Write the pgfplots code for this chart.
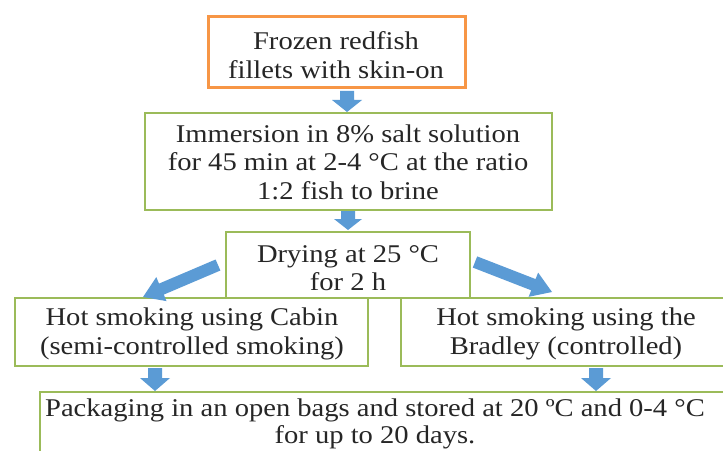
\documentclass[border=0pt]{standalone}
\usepackage{pgfplots}
\pgfplotsset{compat=1.18}
\usepackage{fontspec}
\setmainfont{Liberation Serif}[FakeStretch=1.12]
\definecolor{boxorange}{HTML}{F79646}
\definecolor{boxgreen}{HTML}{9BBB59}
\definecolor{arrowblue}{HTML}{5B9BD5}
\begin{document}
\begin{tikzpicture}
\begin{axis}[
  width=723bp, height=451bp, scale only axis,
  xmin=0, xmax=723, ymin=0, ymax=451, y dir=reverse,
  hide axis, clip=true,
]
% background
\addplot[fill=white, draw=none] coordinates {(0,0) (723,0) (723,451) (0,451) (0,0)} -- cycle;
% boxes
\addplot[draw=boxorange, line width=3bp] coordinates {(208,17) (465,17) (465,88) (208,88) (208,17)} -- cycle;
\addplot[draw=boxgreen, line width=1.8bp] coordinates {(145,113) (552,113) (552,210) (145,210) (145,113)} -- cycle;
\addplot[draw=boxgreen, line width=1.8bp] coordinates {(226,232) (470,232) (470,298) (226,298) (226,232)} -- cycle;
\addplot[draw=boxgreen, line width=1.8bp] coordinates {(15,298) (368,298) (368,366) (15,366) (15,298)} -- cycle;
\addplot[draw=boxgreen, line width=1.8bp] coordinates {(401,298) (740,298) (740,366) (401,366) (401,298)} -- cycle;
\addplot[draw=boxgreen, line width=1.8bp] coordinates {(40,392) (740,392) (740,470) (40,470) (40,392)} -- cycle;
% block arrows
\addplot[fill=arrowblue, draw=none] coordinates {(340,91) (354,91) (354,100) (362,100) (347,112) (332,100) (340,100)} -- cycle;
\addplot[fill=arrowblue, draw=none] coordinates {(341,211) (355,211) (355,219) (362,219) (348,230) (334,219) (341,219)} -- cycle;
\addplot[fill=arrowblue, draw=none] coordinates {(148,368) (162,368) (162,378) (170,378) (155,391) (140,378) (148,378)} -- cycle;
\addplot[fill=arrowblue, draw=none] coordinates {(589,368) (603,368) (603,378) (611,378) (596,391) (581,378) (589,378)} -- cycle;
\addplot[fill=arrowblue, draw=none] coordinates {(215.6,259.5) (159.0,283.6) (156.3,277.1) (143,297) (166.5,301.1) (163.8,294.6) (220.4,270.5)} -- cycle;
\addplot[fill=arrowblue, draw=none] coordinates {(477.2,256.4) (535.6,279.1) (538.1,272.6) (552,292) (528.7,296.8) (531.2,290.3) (472.8,267.6)} -- cycle;
% texts
\tikzset{lbl/.style={align=center, inner sep=0pt, text=black!85, font=\fontsize{25.6}{28.6}\selectfont}}
\node[lbl] at (axis cs:336,55) {Frozen redfish\\fillets with skin-on};
\node[lbl] at (axis cs:348,162) {Immersion in 8\% salt solution\\for 45 min at 2-4 °C at the ratio\\1:2 fish to brine};
\node[lbl] at (axis cs:348,268) {Drying at 25 °C\\for 2 h};
\node[lbl] at (axis cs:192,334) {Hot smoking using Cabin\\(semi-controlled smoking)};
\node[lbl] at (axis cs:566,334) {Hot smoking using the\\Bradley (controlled)};
\node[lbl, font=\fontsize{25.6}{27.5}\selectfont] at (axis cs:375,424) {Packaging in an open bags and stored at 20 ºC and 0-4 °C\\for up to 20 days.};
\end{axis}
\end{tikzpicture}
\end{document}
